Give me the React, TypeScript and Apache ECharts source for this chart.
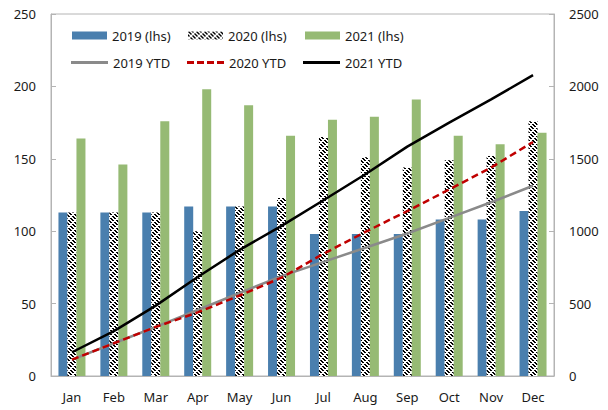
import React, { useEffect, useRef } from "react";
import * as echarts from "echarts";

const categories = ["Jan", "Feb", "Mar", "Apr", "May", "Jun", "Jul", "Aug", "Sep", "Oct", "Nov", "Dec"];
const v2019 = [113, 113, 113, 117, 117, 117, 98, 98, 98, 108, 108, 114];
const v2020 = [113, 113, 113, 100, 117, 123, 165, 151, 144, 149, 152, 176];
const v2021 = [164, 146, 176, 198, 187, 166, 177, 179, 191, 166, 160, 168];
const ytd2019 = [113, 226, 339, 456, 573, 690, 788, 886, 984, 1092, 1200, 1314];
const ytd2020 = [113, 226, 339, 439, 556, 679, 844, 995, 1139, 1288, 1440, 1616];
const ytd2021 = [164, 310, 486, 684, 871, 1037, 1214, 1393, 1584, 1750, 1910, 2078];
const leftTicks = { min: 0, max: 250, interval: 50 };
const rightTicks = { min: 0, max: 2500, interval: 500 };

const FONT = "Noto Sans";
const AXIS_COLOR = "#b4b4b4";
const TEXT_COLOR = "#1a1a1a";
const SOLID_ICON = "path://M0,0H37V3H0Z";
const DASH_ICON = "path://M0,0H7V3H0Z M10,0H17V3H10Z M20,0H27V3H20Z M30,0H37V3H30Z";

function makeHatch() {
  const c = document.createElement("canvas");
  c.width = 8;
  c.height = 8;
  const ctx = c.getContext("2d")!;
  ctx.fillStyle = "#ffffff";
  ctx.fillRect(0, 0, 8, 8);
  ctx.fillStyle = "#000000";
  for (let y = 0; y < 8; y++) {
    for (let x = 0; x < 8; x++) {
      const d = (((x - y) % 4) + 4) % 4;
      const s = (x + y) % 8;
      if ((d === 0 || d === 1) && s !== 6 && s !== 7) ctx.fillRect(x, y, 1, 1);
    }
  }
  return c;
}

export default function App() {
  const ref = useRef<HTMLDivElement>(null);
  useEffect(() => {
    if (!ref.current) return;
    const chart = echarts.init(ref.current, undefined, { renderer: "svg" });
    const hatch = makeHatch();
    const hatchColor: any = { image: hatch, repeat: "repeat", imageWidth: 8, imageHeight: 8 };
    const textStyle = { fontFamily: FONT, fontSize: 13, color: TEXT_COLOR };
    const barLegend = (name: string, left: number) => ({
      data: [{ name, icon: "rect" }],
      left,
      top: 29,
      itemWidth: 35,
      itemHeight: 8,
      itemGap: 0,
      padding: 0,
      selectedMode: false,
      textStyle,
    });
    const lineLegend = (name: string, left: number, icon: string) => ({
      data: [{ name, icon }],
      left,
      top: 56,
      itemWidth: 37,
      itemHeight: 3,
      itemGap: 0,
      padding: 0,
      selectedMode: false,
      textStyle,
    });
    chart.setOption({
      animation: false,
      backgroundColor: "#fff",
      grid: { left: 51, right: 54, top: 14, bottom: 34, show: true, borderColor: AXIS_COLOR, borderWidth: 1 },
      legend: [
        barLegend("2019 (lhs)", 72),
        barLegend("2020 (lhs)", 188),
        barLegend("2021 (lhs)", 305),
        lineLegend("2019 YTD", 71, SOLID_ICON),
        lineLegend("2020 YTD", 187, DASH_ICON),
        lineLegend("2021 YTD", 303, SOLID_ICON),
      ],
      xAxis: {
        type: "category",
        data: categories,
        axisLine: { lineStyle: { color: AXIS_COLOR } },
        axisTick: { inside: true, length: 5, lineStyle: { color: AXIS_COLOR } },
        axisLabel: { fontFamily: FONT, fontSize: 13, color: TEXT_COLOR, margin: 14 },
      },
      yAxis: [
        {
          type: "value",
          ...leftTicks,
          axisLine: { show: true, lineStyle: { color: AXIS_COLOR } },
          axisTick: { show: true, inside: true, length: 5, lineStyle: { color: AXIS_COLOR } },
          axisLabel: { fontFamily: FONT, fontSize: 13, color: TEXT_COLOR, margin: 15 },
          splitLine: { show: false },
        },
        {
          type: "value",
          ...rightTicks,
          position: "right",
          axisLine: { show: true, lineStyle: { color: AXIS_COLOR } },
          axisTick: { show: true, inside: true, length: 5, lineStyle: { color: AXIS_COLOR } },
          axisLabel: { fontFamily: FONT, fontSize: 13, color: TEXT_COLOR, margin: 15, formatter: (v: number) => String(v) },
          splitLine: { show: false },
        },
      ],
      series: [
        { name: "2019 (lhs)", type: "bar", data: v2019, barWidth: 9, barGap: "0%", itemStyle: { color: "#4a7fae" } },
        { name: "2020 (lhs)", type: "bar", data: v2020, barWidth: 9, barGap: "0%", itemStyle: { color: hatchColor } },
        { name: "2021 (lhs)", type: "bar", data: v2021, barWidth: 9, barGap: "0%", itemStyle: { color: "#96ba74" } },
        { name: "2019 YTD", type: "line", yAxisIndex: 1, data: ytd2019, symbol: "none", z: 5, lineStyle: { color: "#8a8a8a", width: 2.5 }, itemStyle: { color: "#8a8a8a" } },
        { name: "2020 YTD", type: "line", yAxisIndex: 1, data: ytd2020, symbol: "none", z: 5, lineStyle: { color: "#c00000", width: 2.5, type: [7, 4] }, itemStyle: { color: "#c00000" } },
        { name: "2021 YTD", type: "line", yAxisIndex: 1, data: ytd2021, symbol: "none", z: 6, lineStyle: { color: "#000000", width: 2.5 }, itemStyle: { color: "#000000" } },
      ],
    });
    return () => chart.dispose();
  }, []);
  return <div ref={ref} style={{ width: 608, height: 410, position: "absolute", left: 0, top: 0 }} />;
}
